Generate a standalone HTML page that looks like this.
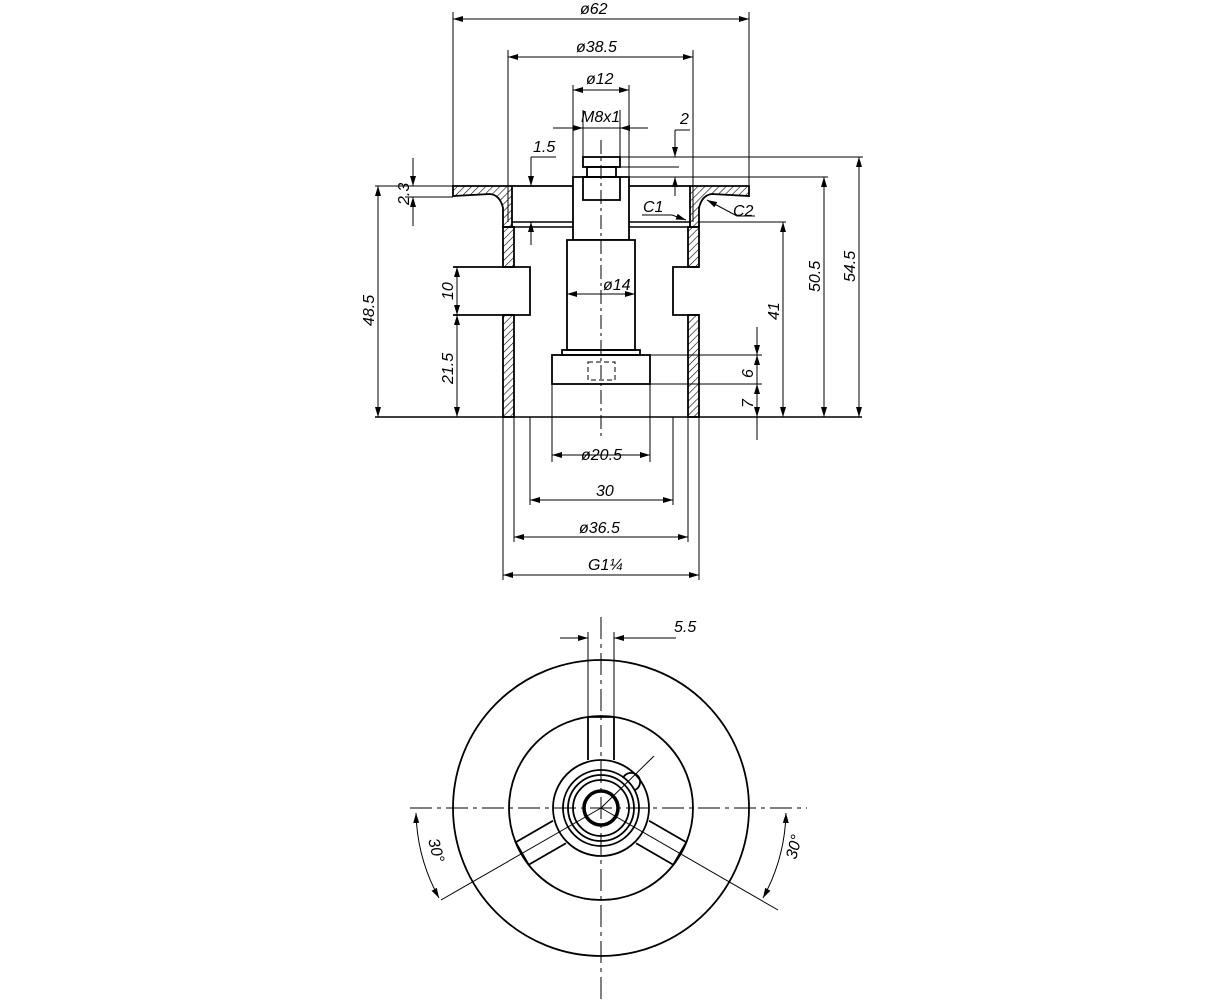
<!DOCTYPE html>
<html><head><style>html,body{margin:0;padding:0;background:#fff}svg{display:block}text{font-family:"Liberation Sans",sans-serif;font-style:italic;font-size:16px;fill:#000}</style></head><body>
<svg width="1223" height="1000" viewBox="0 0 1223 1000" xmlns="http://www.w3.org/2000/svg">
<defs>
<marker id="a" viewBox="0 0 10 6" refX="10" refY="3" markerWidth="10" markerHeight="6" orient="auto-start-reverse" markerUnits="userSpaceOnUse"><path d="M0,0L10,3L0,6z" fill="#000"/></marker>
<pattern id="h" width="5" height="5" patternUnits="userSpaceOnUse" patternTransform="rotate(45)"><line x1="0" y1="0" x2="0" y2="5" stroke="#000" stroke-width="1.2"/></pattern>
</defs>
<g stroke="#000" fill="none" stroke-width="1">
<!-- flange -->
<path d="M453,186H512V227H503V208Q500,195 490,194L453,196Z" fill="url(#h)" stroke-width="1.8"/>
<path d="M749,186H690V227H699V208Q702,195 712,194L749,196Z" fill="url(#h)" stroke-width="1.8"/>
<line x1="512" y1="186" x2="690" y2="186" stroke-width="1.8"/>
<line x1="512" y1="222" x2="690" y2="222" stroke-width="1.5"/>
<line x1="512" y1="227" x2="690" y2="227" stroke-width="1.5"/>
<!-- sleeve walls -->
<rect x="503" y="227" width="11" height="40" fill="url(#h)" stroke-width="1.8"/>
<rect x="688" y="227" width="11" height="40" fill="url(#h)" stroke-width="1.8"/>
<rect x="503" y="315" width="11" height="102" fill="url(#h)" stroke-width="1.8"/>
<rect x="688" y="315" width="11" height="102" fill="url(#h)" stroke-width="1.8"/>
<path d="M453,267H530V315H453" stroke-width="1.8"/>
<path d="M699,267H673V315H699" stroke-width="1.8"/>
<!-- shaft -->
<g stroke-width="1.8">
<rect x="583" y="157" width="37" height="10"/>
<rect x="587" y="167" width="29" height="10"/>
<rect x="573" y="177" width="56" height="63" fill="#fff"/>
<rect x="583" y="177" width="37" height="23"/>
<rect x="567" y="240" width="68" height="110" fill="#fff"/>
<rect x="562" y="350" width="78" height="5"/>
<rect x="552" y="355" width="98" height="29"/>
</g>
<rect x="588" y="362" width="27" height="18" stroke-dasharray="5,3"/>
<line x1="601" y1="140" x2="601" y2="440" stroke-dasharray="14,4,3,4"/>
<line x1="375" y1="417" x2="862" y2="417" stroke-width="1.5"/>
<!-- top dims -->
<line x1="453" y1="12" x2="453" y2="186"/><line x1="749" y1="12" x2="749" y2="186"/>
<line x1="453" y1="19" x2="749" y2="19" marker-start="url(#a)" marker-end="url(#a)"/>
<line x1="508" y1="50" x2="508" y2="222"/><line x1="693" y1="50" x2="693" y2="222"/>
<line x1="508" y1="57" x2="693" y2="57" marker-start="url(#a)" marker-end="url(#a)"/>
<line x1="573" y1="85" x2="573" y2="177"/><line x1="629" y1="85" x2="629" y2="177"/>
<line x1="573" y1="90" x2="629" y2="90" marker-start="url(#a)" marker-end="url(#a)"/>
<line x1="583" y1="110" x2="583" y2="157"/><line x1="620" y1="110" x2="620" y2="157"/>
<line x1="553" y1="128" x2="583" y2="128" marker-end="url(#a)"/><line x1="648" y1="128" x2="620" y2="128" marker-end="url(#a)"/>
<line x1="583" y1="128" x2="620" y2="128"/>
<line x1="620" y1="157" x2="863" y2="157"/><line x1="616" y1="167" x2="679" y2="167"/>
<line x1="629" y1="177" x2="828" y2="177"/>
<line x1="675" y1="130" x2="675" y2="157" marker-end="url(#a)"/>
<line x1="675" y1="196" x2="675" y2="177" marker-end="url(#a)"/>
<line x1="675" y1="130" x2="690" y2="130"/>
<line x1="531" y1="157" x2="531" y2="186" marker-end="url(#a)"/>
<line x1="531" y1="245" x2="531" y2="222" marker-end="url(#a)"/>
<line x1="531" y1="157" x2="556" y2="157"/>
<line x1="375" y1="186" x2="453" y2="186"/><line x1="405" y1="197" x2="453" y2="197"/>
<line x1="413" y1="158" x2="413" y2="186" marker-end="url(#a)"/>
<line x1="413" y1="226" x2="413" y2="197" marker-end="url(#a)"/>
<line x1="378" y1="186" x2="378" y2="417" marker-start="url(#a)" marker-end="url(#a)"/>
<line x1="457" y1="267" x2="457" y2="315" marker-start="url(#a)" marker-end="url(#a)"/>
<line x1="457" y1="315" x2="457" y2="417" marker-start="url(#a)" marker-end="url(#a)"/>
<line x1="699" y1="222" x2="786" y2="222"/>
<line x1="783" y1="222" x2="783" y2="417" marker-start="url(#a)" marker-end="url(#a)"/>
<line x1="824" y1="177" x2="824" y2="417" marker-start="url(#a)" marker-end="url(#a)"/>
<line x1="859" y1="157" x2="859" y2="417" marker-start="url(#a)" marker-end="url(#a)"/>
<line x1="650" y1="355" x2="762" y2="355"/><line x1="650" y1="384" x2="762" y2="384"/>
<line x1="757" y1="327" x2="757" y2="355" marker-end="url(#a)"/>
<line x1="757" y1="384" x2="757" y2="355" marker-end="url(#a)"/>
<line x1="757" y1="384" x2="757" y2="417" marker-start="url(#a)" marker-end="url(#a)"/>
<line x1="757" y1="417" x2="757" y2="440" />
<line x1="567" y1="294" x2="635" y2="294" marker-start="url(#a)" marker-end="url(#a)"/>
<path d="M642,215H672L686,220" marker-end="url(#a)"/>
<path d="M755,216H737L707,200" marker-end="url(#a)"/>
<line x1="503" y1="417" x2="503" y2="580"/><line x1="699" y1="417" x2="699" y2="580"/>
<line x1="514" y1="417" x2="514" y2="542"/><line x1="688" y1="417" x2="688" y2="542"/>
<line x1="530" y1="417" x2="530" y2="505"/><line x1="673" y1="417" x2="673" y2="505"/>
<line x1="552" y1="384" x2="552" y2="462"/><line x1="650" y1="384" x2="650" y2="462"/>
<line x1="552" y1="455" x2="650" y2="455" marker-start="url(#a)" marker-end="url(#a)"/>
<line x1="530" y1="500" x2="673" y2="500" marker-start="url(#a)" marker-end="url(#a)"/>
<line x1="514" y1="537" x2="688" y2="537" marker-start="url(#a)" marker-end="url(#a)"/>
<line x1="503" y1="575" x2="699" y2="575" marker-start="url(#a)" marker-end="url(#a)"/>
<!-- bottom view -->
<g stroke-width="1.8">
<circle cx="601" cy="808" r="148"/>
<circle cx="601" cy="808" r="92"/>
<circle cx="601" cy="808" r="48"/>
<circle cx="601" cy="808" r="38"/>
<circle cx="601" cy="808" r="33"/>
<circle cx="601" cy="808" r="28"/>
<circle cx="601" cy="808" r="17" stroke-width="3.5"/>
<path d="M588,717V760M614,717V760M588,717H614"/>
<g transform="rotate(120 601 808)"><path d="M588,717V760M614,717V760M588,717H614"/></g>
<g transform="rotate(240 601 808)"><path d="M588,717V760M614,717V760M588,717H614"/></g>
<path d="M623,778a9,9 0 1 1 12,12"/>
</g>
<line x1="588" y1="632" x2="588" y2="717"/><line x1="614" y1="632" x2="614" y2="717"/>
<line x1="560" y1="638" x2="588" y2="638" marker-end="url(#a)"/>
<line x1="676" y1="638" x2="614" y2="638" marker-end="url(#a)"/>
<line x1="601" y1="617" x2="601" y2="1000" stroke-dasharray="22,5,4,5"/>
<line x1="410" y1="808" x2="807" y2="808" stroke-dasharray="22,5,4,5"/>
<line x1="601" y1="808" x2="441" y2="900"/>
<line x1="601" y1="808" x2="778" y2="910"/>
<line x1="601" y1="808" x2="654" y2="756"/>
<path d="M416,813A185,185 0 0 0 439,898" marker-start="url(#a)" marker-end="url(#a)"/>
<path d="M786,813A185,185 0 0 1 763,898" marker-start="url(#a)" marker-end="url(#a)"/>
</g>
<text x="580" y="14">ø62</text>
<text x="576" y="52">ø38.5</text>
<text x="586" y="84">ø12</text>
<text x="581" y="122">M8x1</text>
<text x="680" y="124">2</text>
<text x="533" y="152">1.5</text>
<text x="643" y="212">C1</text>
<text x="733" y="216">C2</text>
<text x="603" y="290">ø14</text>
<text x="581" y="460">ø20.5</text>
<text x="596" y="496">30</text>
<text x="579" y="533">ø36.5</text>
<text x="588" y="570">G1¼</text>
<text x="674" y="632">5.5</text>
<text transform="translate(409,205) rotate(-90)">2.3</text>
<text transform="translate(374,326) rotate(-90)">48.5</text>
<text transform="translate(453,300) rotate(-90)">10</text>
<text transform="translate(453,384) rotate(-90)">21.5</text>
<text transform="translate(779,320) rotate(-90)">41</text>
<text transform="translate(820,292) rotate(-90)">50.5</text>
<text transform="translate(855,282) rotate(-90)">54.5</text>
<text transform="translate(753,378) rotate(-90)">6</text>
<text transform="translate(753,408) rotate(-90)">7</text>
<text transform="translate(428,840) rotate(75)">30°</text>
<text transform="translate(796,860) rotate(-75)">30°</text>
</svg>
</body></html>
